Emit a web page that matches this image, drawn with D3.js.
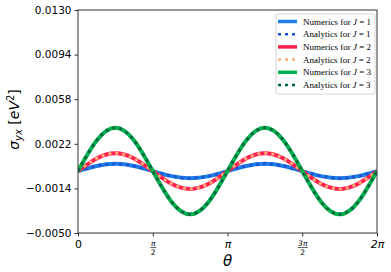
<!DOCTYPE html>
<html>
<head>
<meta charset="utf-8">
<script src="https://cdn.jsdelivr.net/npm/d3@7"></script>
<style>
  body { margin: 0; background: #fff; }
  svg { display: block; }
</style>
</head>
<body>
<div id="chart"></div>
<script>
// theta samples, step pi/8
const thetaSteps = [0, 1, 2, 3, 4, 5, 6, 7, 8, 9, 10, 11, 12, 13, 14, 15, 16]
const numericsJ1 = [0, 0.00041, 0.00058, 0.00041, 0, -0.00041, -0.00058, -0.00041, 0, 0.00041, 0.00058, 0.00041, 0, -0.00041, -0.00058, -0.00041, 0]
const analyticsJ1 = [0, 0.00041, 0.00058, 0.00041, 0, -0.00041, -0.00058, -0.00041, 0, 0.00041, 0.00058, 0.00041, 0, -0.00041, -0.00058, -0.00041, 0]
const numericsJ2 = [0, 0.00102, 0.00144, 0.00102, 0, -0.00102, -0.00144, -0.00102, 0, 0.00102, 0.00144, 0.00102, 0, -0.00102, -0.00144, -0.00102, 0]
const analyticsJ2 = [0, 0.00102, 0.00144, 0.00102, 0, -0.00102, -0.00144, -0.00102, 0, 0.00102, 0.00144, 0.00102, 0, -0.00102, -0.00144, -0.00102, 0]
const numericsJ3 = [0, 0.00247, 0.00349, 0.00247, 0, -0.00247, -0.00349, -0.00247, 0, 0.00247, 0.00349, 0.00247, 0, -0.00247, -0.00349, -0.00247, 0]
const analyticsJ3 = [0, 0.00247, 0.00349, 0.00247, 0, -0.00247, -0.00349, -0.00247, 0, 0.00247, 0.00349, 0.00247, 0, -0.00247, -0.00349, -0.00247, 0]
const yTicks = [-0.005, -0.0014, 0.0022, 0.0058, 0.0094, 0.013]
const xTicks = [0, 0.5, 1, 1.5, 2] // multiples of pi

const series = [
  { label: 'Numerics for ', j: 1, values: numericsJ1, color: '#1f7ee6', dash: null, width: 4 },
  { label: 'Analytics for ', j: 1, values: analyticsJ1, color: '#1a55d6', dash: '3,4', width: 3 },
  { label: 'Numerics for ', j: 2, values: numericsJ2, color: '#ff2050', dash: null, width: 4 },
  { label: 'Analytics for ', j: 2, values: analyticsJ2, color: '#ffab7a', dash: '3,4', width: 3 },
  { label: 'Numerics for ', j: 3, values: numericsJ3, color: '#00b050', dash: null, width: 4 },
  { label: 'Analytics for ', j: 3, values: analyticsJ3, color: '#00693a', dash: '3,4', width: 3 }
]

const width = 391
const height = 272
const margin = { top: 10, left: 78, right: 14, bottom: 39 }
const innerW = width - margin.left - margin.right
const innerH = height - margin.top - margin.bottom

const svg = d3
  .select('#chart')
  .append('svg')
  .attr('width', width)
  .attr('height', height)

const g = svg
  .append('g')
  .attr('transform', 'translate(' + margin.left + ',' + margin.top + ')')

const x = d3.scaleLinear().domain([0, 2 * Math.PI]).range([0, innerW])
const y = d3.scaleLinear().domain([-0.005, 0.013]).range([innerH, 0])

const line = d3
  .line()
  .x((d, i) => x(thetaSteps[i] * Math.PI / 8))
  .y(d => y(d))
  .curve(d3.curveNatural)

g.append('clipPath')
  .attr('id', 'clip')
  .append('rect')
  .attr('width', innerW)
  .attr('height', innerH)

g.append('g')
  .attr('clip-path', 'url(#clip)')
  .selectAll('.series')
  .data(series)
  .enter()
  .append('path')
  .attr('class', 'series')
  .attr('d', d => line(d.values))
  .attr('fill', 'none')
  .attr('stroke', d => d.color)
  .attr('stroke-width', d => d.width)
  .attr('stroke-dasharray', d => d.dash)

// axes
const yAxis = d3
  .axisLeft(y)
  .tickValues(yTicks)
  .tickSize(3.5)
  .tickPadding(3)
  .tickFormat(d => d3.format('.4f')(d).replace('-', '\u2212'))

const yG = g.append('g').call(yAxis)
yG.select('.domain').remove()
yG.selectAll('line').attr('stroke', '#333')
yG.selectAll('text')
  .attr('font-family', 'DejaVu Sans')
  .attr('font-size', 10.5)
  .attr('fill', '#000')

const xAxis = d3
  .axisBottom(x)
  .tickValues(xTicks.map(t => t * Math.PI))
  .tickSize(3.5)
  .tickFormat('')

const xG = g.append('g').attr('transform', 'translate(0,' + innerH + ')').call(xAxis)
xG.select('.domain').remove()
xG.selectAll('line').attr('stroke', '#333')

// x tick labels, fractions drawn by hand
xG.selectAll('.tick').each(function(d, i) {
  const t = d3.select(this)
  const m = xTicks[i]
  if (m === 0 || m === 1 || m === 2) {
    const s = m === 0 ? '0' : m === 1 ? '\u03c0' : '2\u03c0'
    t.append('text')
      .attr('y', 15)
      .attr('text-anchor', 'middle')
      .attr('font-family', 'DejaVu Sans')
      .attr('font-style', m === 0 ? 'normal' : 'italic')
      .attr('font-size', 11)
      .attr('fill', '#000')
      .text(s)
  } else {
    const num = m === 0.5 ? '\u03c0' : '3\u03c0'
    t.append('text')
      .attr('y', 13)
      .attr('text-anchor', 'middle')
      .attr('font-family', 'DejaVu Sans')
      .attr('font-style', 'italic')
      .attr('font-size', 7.5)
      .attr('fill', '#000')
      .text(num)
    t.append('line')
      .attr('x1', m === 0.5 ? -3 : -5)
      .attr('x2', m === 0.5 ? 3 : 5)
      .attr('y1', 14.5)
      .attr('y2', 14.5)
      .attr('stroke', '#000')
      .attr('stroke-width', 0.6)
    t.append('text')
      .attr('y', 21.5)
      .attr('text-anchor', 'middle')
      .attr('font-family', 'DejaVu Sans')
      .attr('font-size', 7.5)
      .attr('fill', '#000')
      .text('2')
  }
})

// frame
g.append('rect')
  .attr('width', innerW)
  .attr('height', innerH)
  .attr('fill', 'none')
  .attr('stroke', '#333')
  .attr('stroke-width', 1)

// axis titles
g.append('text')
  .attr('x', innerW / 2)
  .attr('y', innerH + 33)
  .attr('text-anchor', 'middle')
  .attr('font-family', 'DejaVu Sans')
  .attr('font-style', 'italic')
  .attr('font-size', 15)
  .text('\u03b8')

const yLabel = svg
  .append('text')
  .attr('transform', 'translate(19,' + (margin.top + innerH / 2 - 2) + ') rotate(-90)')
  .attr('text-anchor', 'middle')
  .attr('font-family', 'DejaVu Sans')
  .attr('font-size', 14)
yLabel.append('tspan').attr('font-style', 'italic').text('\u03c3')
yLabel.append('tspan').attr('font-style', 'italic').attr('font-size', 10).attr('dy', 3).text('yx')
yLabel.append('tspan').attr('dy', -3).text(' [')
yLabel.append('tspan').attr('font-style', 'italic').text('eV')
yLabel.append('tspan').attr('font-size', 10).attr('dy', -5).text('2')
yLabel.append('tspan').attr('dy', 5).text(']')

// legend
const legend = g.append('g').attr('transform', 'translate(' + (276 - margin.left) + ',' + (14 - margin.top) + ')')
legend.append('rect')
  .attr('width', 99)
  .attr('height', 80)
  .attr('rx', 2)
  .attr('fill', '#fff')
  .attr('stroke', '#ccc')
  .attr('stroke-width', 0.8)

const item = legend
  .selectAll('.item')
  .data(series)
  .enter()
  .append('g')
  .attr('class', 'item')
  .attr('transform', (d, i) => 'translate(0,' + (7.5 + i * 12.7) + ')')

item.append('line')
  .attr('x1', 2)
  .attr('x2', 21)
  .attr('stroke', d => d.color)
  .attr('stroke-width', d => d.width - 0.5)
  .attr('stroke-dasharray', d => d.dash)

const lt = item.append('text')
  .attr('x', 27)
  .attr('y', 3)
  .attr('font-family', 'Liberation Serif')
  .attr('font-size', 9)
  .attr('fill', '#000')
lt.append('tspan').text(d => d.label)
lt.append('tspan').attr('font-style', 'italic').text('J')
lt.append('tspan').text(d => ' = ' + d.j)
</script>
</body>
</html>
